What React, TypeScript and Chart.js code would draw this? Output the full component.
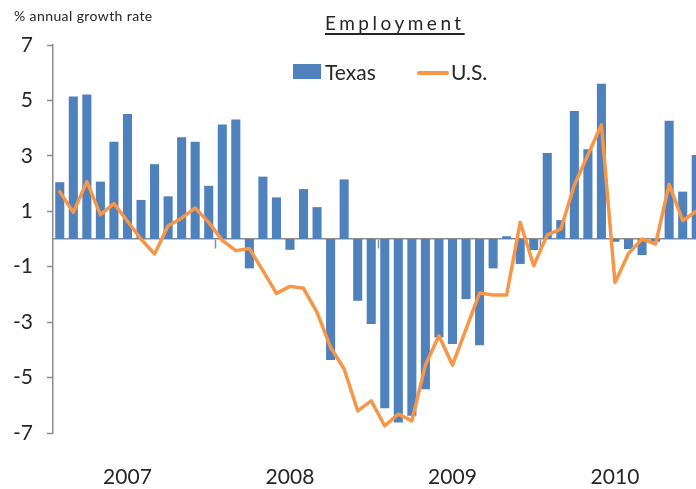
import React, { useEffect, useRef } from 'react';
import { Chart, registerables } from 'chart.js';

Chart.register(...registerables);

const years = ['2007', '2008', '2009', '2010'];
const monthNames = ['Jan', 'Feb', 'Mar', 'Apr', 'May', 'Jun', 'Jul', 'Aug', 'Sep', 'Oct', 'Nov', 'Dec'];
const categories = years.flatMap((y) => monthNames.map((m) => `${m} ${y}`));

const texas = [
  2.05, 5.14, 5.21, 2.07, 3.51, 4.51, 1.41, 2.7, 1.54, 3.67, 3.51, 1.92,
  4.13, 4.31, -1.06, 2.25, 1.5, -0.39, 1.8, 1.15, -4.37, 2.15, -2.23, -3.07,
  -6.11, -6.62, -6.38, -5.42, -3.55, -3.79, -2.17, -3.83, -1.06, 0.1, -0.9, -0.4,
  3.1, 0.68, 4.62, 3.24, 5.6, -0.1, -0.36, -0.58, -0.1, 4.27, 1.71, 3.03,
];

const us = [
  1.71, 0.96, 2.07, 0.88, 1.28, 0.64, 0.0, -0.54, 0.48, 0.75, 1.12, 0.6,
  -0.05, -0.42, -0.34, -1.14, -1.96, -1.71, -1.78, -2.65, -3.91, -4.69, -6.2, -5.84,
  -6.74, -6.32, -6.56, -4.55, -3.49, -4.55, -3.25, -1.95, -2.02, -2.02, 0.6, -0.96,
  0.15, 0.36, 1.95, 3.03, 4.12, -1.57, -0.52, 0.0, -0.18, 1.97, 0.66, 1.0,
];

const yTicks = [-7, -5, -3, -1, 1, 3, 5, 7];

const BLUE = '#4f81bd';
const ORANGE = '#f79646';
const AXIS = '#8c8c8c';
const TEXT = '#262626';
const FONT = 'Lato';

export default function App() {
  const ref = useRef<HTMLCanvasElement | null>(null);

  useEffect(() => {
    if (!ref.current) return;
    const chart = new Chart(ref.current, {
      data: {
        labels: categories,
        datasets: [
          {
            type: 'line',
            label: 'U.S.',
            data: us,
            borderColor: ORANGE,
            backgroundColor: ORANGE,
            borderWidth: 3.5,
            pointRadius: 0,
            tension: 0,
            borderJoinStyle: 'round',
            borderCapStyle: 'round',
            order: 0,
            xAxisID: 'x',
            yAxisID: 'y',
          } as any,
          {
            type: 'bar',
            label: 'Texas',
            data: texas,
            backgroundColor: BLUE,
            barPercentage: 0.67,
            categoryPercentage: 1,
            order: 1,
            xAxisID: 'x',
            yAxisID: 'y',
          } as any,
        ],
      },
      options: {
        responsive: false,
        animation: false,
        layout: { padding: { top: 45, right: 9, left: 0, bottom: 0 } },
        plugins: {
          legend: { display: false },
          tooltip: { enabled: false },
          title: { display: false },
        },
        scales: {
          x: {
            type: 'category',
            offset: true,
            position: 'bottom',
            grid: { display: false, drawTicks: true, tickLength: 32 },
            border: { display: false },
            ticks: {
              autoSkip: false,
              maxRotation: 0,
              minRotation: 0,
              padding: 0,
              color: TEXT,
              font: { family: FONT, size: 21 },
              callback: (_v: any, i: number) => (i % 12 === 5 ? years[Math.floor(i / 12)] : ''),
            },
            afterFit: (s: any) => {
              s.height = 56;
            },
          },
          x2: {
            type: 'category',
            offset: true,
            position: { y: 0 },
            grid: {
              offset: true,
              drawOnChartArea: false,
              drawTicks: true,
              tickLength: 9,
              tickWidth: 1.5,
              color: (ctx: any) =>
                ctx.index > 0 && ctx.index < categories.length && ctx.index % 12 === 0 ? AXIS : 'rgba(0,0,0,0)',
            },
            border: { display: true, color: AXIS, width: 1.5 },
            ticks: { display: false, padding: 0 },
            z: 1,
          } as any,
          y: {
            type: 'linear',
            min: -7,
            max: 7,
            position: 'left',
            afterBuildTicks: (s: any) => {
              s.ticks = yTicks.map((v) => ({ value: v }));
            },
            grid: { drawOnChartArea: false, drawTicks: true, tickLength: 6, tickWidth: 1.5, color: AXIS },
            border: { display: true, color: AXIS, width: 1.5 },
            ticks: { padding: 14, color: TEXT, font: { family: FONT, size: 21 } },
            afterFit: (s: any) => {
              s.width = 53;
            },
          },
        },
      } as any,
    });
    return () => chart.destroy();
  }, []);

  return (
    <div
      style={{
        position: 'fixed',
        left: 0,
        top: 0,
        width: 696,
        height: 489,
        overflow: 'hidden',
        background: '#fff',
        fontFamily: FONT,
        color: TEXT,
      }}
    >
      <canvas ref={ref} width={712} height={489} style={{ position: 'absolute', left: 0, top: 0 }} />
      <div
        style={{
          position: 'absolute',
          left: 14,
          top: 9,
          fontSize: 14,
          lineHeight: '14px',
          letterSpacing: 0.4,
          whiteSpace: 'nowrap',
        }}
      >
        % annual growth rate
      </div>
      <div
        style={{
          position: 'absolute',
          left: 325,
          top: 13,
          fontSize: 19,
          lineHeight: '19px',
          letterSpacing: 3.5,
          textDecoration: 'underline',
          textDecorationThickness: 1.5,
          textUnderlineOffset: 3,
          whiteSpace: 'nowrap',
        }}
      >
        Employment
      </div>
      <div style={{ position: 'absolute', left: 293, top: 64, width: 28, height: 15, background: BLUE }} />
      <div style={{ position: 'absolute', left: 325, top: 61, fontSize: 21, lineHeight: '21px', whiteSpace: 'nowrap' }}>
        Texas
      </div>
      <div style={{ position: 'absolute', left: 417, top: 71, width: 32, height: 4, background: ORANGE, borderRadius: 2 }} />
      <div style={{ position: 'absolute', left: 451, top: 61, fontSize: 21, lineHeight: '21px', whiteSpace: 'nowrap' }}>
        U.S.
      </div>
    </div>
  );
}
